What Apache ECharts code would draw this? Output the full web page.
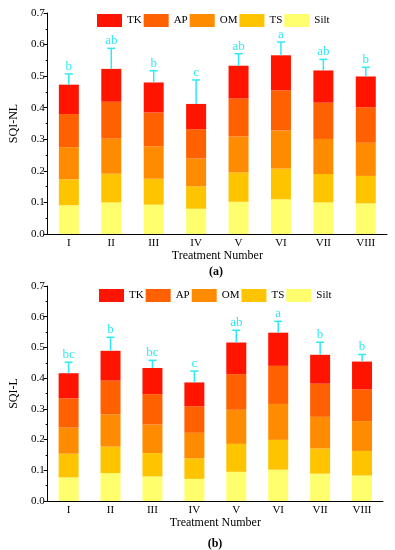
<!DOCTYPE html>
<html><head><meta charset="utf-8">
<script src="https://cdn.jsdelivr.net/npm/echarts@6/dist/echarts.min.js"></script>
<style>html,body{margin:0;padding:0;background:#fff}#c{width:395px;height:550px}</style>
</head><body><div id="c"></div>
<script>
const categories = ['I','II','III','IV','V','VI','VII','VIII'];
const seriesNames = ['Silt','TS','OM','AP','TK'];
const legendOrder = ['TK','AP','OM','TS','Silt'];
const yTicks = [0,0.1,0.2,0.3,0.4,0.5,0.6,0.7];

// (a) SQI-NL components
const siltA = [0.091,0.100,0.093,0.080,0.102,0.110,0.100,0.097];
const tsA   = [0.082,0.091,0.082,0.071,0.093,0.097,0.090,0.087];
const omA   = [0.102,0.111,0.103,0.088,0.114,0.121,0.111,0.105];
const apA   = [0.105,0.117,0.107,0.093,0.120,0.127,0.115,0.112];
const tkA   = [0.093,0.104,0.095,0.080,0.104,0.111,0.102,0.098];
const errA  = [0.034,0.065,0.037,0.076,0.038,0.042,0.035,0.029];
const lettersA = ['b','ab','b','c','ab','a','ab','b'];

// (b) SQI-L components
const siltB = [0.077,0.091,0.080,0.072,0.095,0.102,0.089,0.083];
const tsB   = [0.077,0.086,0.076,0.067,0.091,0.097,0.082,0.080];
const omB   = [0.085,0.105,0.093,0.083,0.111,0.117,0.103,0.097];
const apB   = [0.095,0.110,0.099,0.086,0.116,0.124,0.108,0.103];
const tkB   = [0.082,0.097,0.085,0.078,0.103,0.108,0.094,0.091];
const errB  = [0.036,0.044,0.025,0.037,0.040,0.037,0.041,0.023];
const lettersB = ['bc','b','bc','c','ab','a','b','b'];

const colors = {Silt:'#FFFF6E', TS:'#FFC400', OM:'#FF8C00', AP:'#FF6000', TK:'#FF1400'};
const FONT = 'Liberation Serif';
const ERR_COLOR = '#2EEAF5';

const compsA = {Silt:siltA, TS:tsA, OM:omA, AP:apA, TK:tkA};
const compsB = {Silt:siltB, TS:tsB, OM:omB, AP:apB, TK:tkB};

function totals(comps){
  return categories.map((c,i)=>seriesNames.reduce((s,n)=>s+comps[n][i],0));
}

function barSeries(comps, idx){
  return seriesNames.map(n=>({
    name:n, type:'bar', stack:'s'+idx, xAxisIndex:idx, yAxisIndex:idx,
    barWidth:20, data:comps[n],
    itemStyle:{color:colors[n]}, emphasis:{disabled:true}
  }));
}

function errSeries(comps, err, letters, idx){
  const tot = totals(comps);
  return {
    type:'custom', xAxisIndex:idx, yAxisIndex:idx, z:10, silent:true,
    data: categories.map((c,i)=>[i, tot[i], tot[i]+err[i]]),
    renderItem:function(params, api){
      const p0 = api.coord([api.value(0), api.value(1)]);
      const p1 = api.coord([api.value(0), api.value(2)]);
      const cap = 4;
      return {type:'group', children:[
        {type:'line', shape:{x1:p0[0],y1:p0[1],x2:p1[0],y2:p1[1]}, style:{stroke:ERR_COLOR,lineWidth:1.5}},
        {type:'line', shape:{x1:p1[0]-cap,y1:p1[1],x2:p1[0]+cap,y2:p1[1]}, style:{stroke:ERR_COLOR,lineWidth:1.5}},
        {type:'text', x:p1[0], y:p1[1]-1, style:{text:letters[params.dataIndex], fill:ERR_COLOR, font:'13px "'+FONT+'"', textAlign:'center', textVerticalAlign:'bottom'}}
      ]};
    }
  };
}

function xAxis(idx, gap){
  return {type:'category', gridIndex:idx, data:categories,
    name:'Treatment Number', nameLocation:'middle', nameGap:gap,
    nameTextStyle:{fontFamily:FONT, fontSize:12, color:'#000'},
    axisLine:{lineStyle:{color:'#000',width:1}},
    axisTick:{alignWithLabel:true, length:4, lineStyle:{color:'#000'}},
    axisLabel:{fontFamily:FONT, fontSize:11, color:'#000', margin:4}};
}
function yAxis(idx, name, gap){
  return {type:'value', gridIndex:idx, min:0, max:0.7, interval:0.1,
    name:name, nameLocation:'middle', nameGap:gap,
    nameTextStyle:{fontFamily:FONT, fontSize:12, color:'#000'},
    axisLine:{show:true, lineStyle:{color:'#000',width:1}},
    axisTick:{show:true, length:4, lineStyle:{color:'#000'}},
    minorTick:{show:true, splitNumber:2, length:2, lineStyle:{color:'#000'}},
    splitLine:{show:false},
    axisLabel:{fontFamily:FONT, fontSize:11, color:'#000', margin:3,
      formatter:v=>v.toFixed(1)}};
}

const chart = echarts.init(document.getElementById('c'), null, {renderer:'canvas'});
chart.setOption({
  animation:false,
  color: seriesNames.map(n=>colors[n]),
  title:[
    {text:'(a)', left:211, top:261, textAlign:'center', textStyle:{fontFamily:FONT,fontSize:12,fontWeight:'bold',color:'#000'}},
    {text:'(b)', left:210, top:533, textAlign:'center', textStyle:{fontFamily:FONT,fontSize:12,fontWeight:'bold',color:'#000'}}
  ],
  legend:[
    {data:legendOrder, left:97, top:14, padding:0, itemWidth:25, itemHeight:13, itemGap:2, icon:'rect',
      textStyle:{fontFamily:FONT,fontSize:11,color:'#000'}},
    {data:legendOrder, left:99, top:289, padding:0, itemWidth:25, itemHeight:13, itemGap:2, icon:'rect',
      textStyle:{fontFamily:FONT,fontSize:11,color:'#000'}}
  ],
  grid:[
    {left:35, right:8, top:13, bottom:316},
    {left:38, right:12, top:286, bottom:49}
  ],
  xAxis:[xAxis(0,14), xAxis(1,14)],
  yAxis:[yAxis(0,'SQI-NL',24), yAxis(1,'SQI-L',24)],
  series:[].concat(
    barSeries(compsA,0), [errSeries(compsA,errA,lettersA,0)],
    barSeries(compsB,1), [errSeries(compsB,errB,lettersB,1)]
  )
});
</script></body></html>
